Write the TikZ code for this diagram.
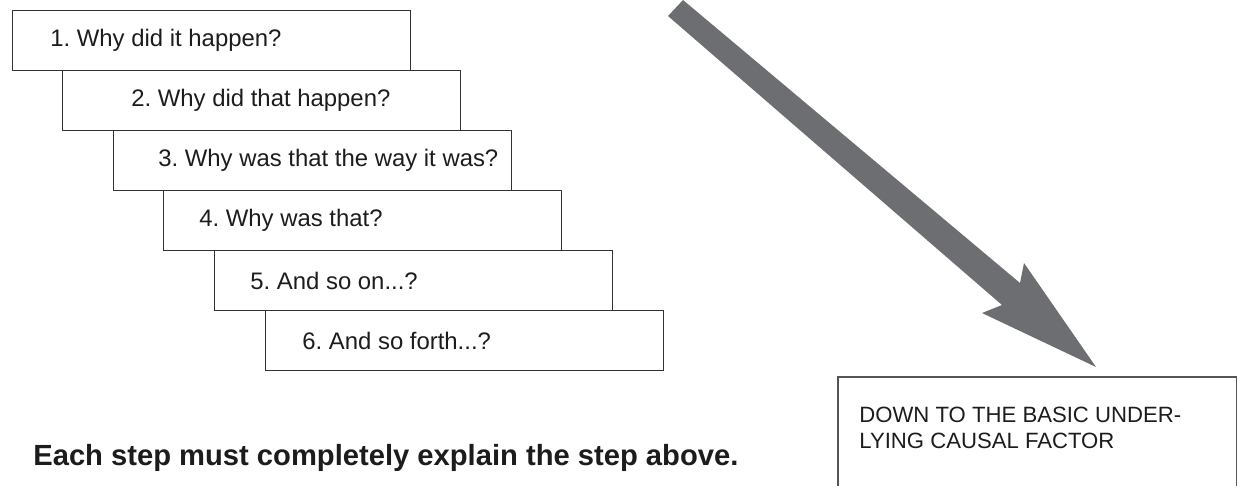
\documentclass[tikz,border=0pt]{standalone}
\usepackage{fontspec}
\setmainfont{Liberation Sans}
\frenchspacing
\definecolor{arrowgray}{HTML}{6D6E71}
\definecolor{linegray}{HTML}{333333}
\definecolor{framegray}{HTML}{555555}
\definecolor{inkgray}{HTML}{1C1C1C}
\tikzset{
  stepbox/.style={draw=linegray, line width=0.7pt, minimum width=7.96cm, minimum height=1.2cm, anchor=north west, inner sep=0pt},
  steptext/.style={anchor=west, inner sep=0pt, text=inkgray, font=\fontsize{13.6}{16}\selectfont},
  rootbox/.style={minimum width=7.96cm, minimum height=2.16cm, anchor=north west, inner sep=0pt},
  roottext/.style={anchor=north west, inner sep=0pt, align=left, text=inkgray, font=\fontsize{12.6}{14.4}\selectfont},
}
\begin{document}
\begin{tikzpicture}[x=0.02cm, y=-0.02cm]
\useasboundingbox (0,0) rectangle (1239,485);
% staircase of questions
\foreach \k/\lx/\off/\q in {1/12/38/{1. Why did it happen?}, 2/62/69/{2. Why did that happen?}, 3/113/45/{3. Why was that the way it was?}, 4/163/36/{4. Why was that?}, 5/214/36/{5. And so on...?}, 6/265/37/{6. And so forth...?}}{
  \node[stepbox] (step\k) at (\lx,{10+60*(\k-1)}) {};
  \node[steptext] (q\k) at ([xshift=\off*0.02cm]step\k.west) {\q};
}
% big arrow
\fill[arrowgray] (683,0) -- (1020,283) -- (1024,263) -- (1096,367) -- (982,313) -- (1002,305) -- (668,16) -- cycle;
% root cause box, open at the bottom
\node[rootbox] (root) at (838,377) {};
\draw[framegray, line width=0.8pt] (root.south west) |- (root.north east) -- (root.south east);
\node[roottext] (rootlabel) at (859,407) {DOWN TO THE BASIC UNDER-\\LYING CAUSAL FACTOR};
\node[anchor=base west, inner sep=0pt, text=inkgray, font=\fontsize{16.6}{20}\selectfont\bfseries] (rule) at (33,465) {Each step must completely explain the step above.};
\end{tikzpicture}
\end{document}
